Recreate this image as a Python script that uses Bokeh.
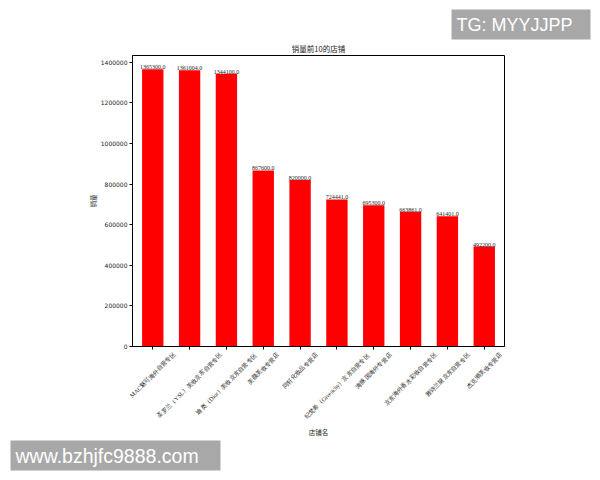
import math
from bokeh.plotting import figure
from bokeh.layouts import column
from bokeh.models import (Range1d, SingleIntervalTicker, BasicTickFormatter, FixedTicker,
                          ColumnDataSource, LabelSet, Label, BoxAnnotation)
from bokeh.embed import file_html
from bokeh.resources import INLINE

# Top-10 stores by sales volume
stores = [
    "MAC魅可海外自营专区",
    "圣罗兰（YSL）美妆京东自营专区",
    "迪奥（Dior）美妆京东自营专区",
    "美颜美妆专营店",
    "同轩化妆品专营店",
    "纪梵希（Givenchy）京东自营专区",
    "海豚国海外专营店",
    "京东海外香水彩妆自营专区",
    "雅诗兰黛京东自营专区",
    "杰克潮美妆专营店",
]
sales = [1365300, 1361004, 1344100, 867600, 820000, 724441, 695300, 663861, 641401, 492200]
y_tick_step = 200000

CJK = "Noto Sans CJK SC"
LATIN = "DejaVu Sans"
INK = "#222222"
GREY = "#a8a8a8"

W = 600
FL, FR = 132, 504            # plot frame left/right on the page
TOP_H = 54                   # strip with title and badge
MAIN_TOP, MAIN_BOTTOM = 1, 4
FRAME_H = 291
MAIN_H = MAIN_TOP + FRAME_H + MAIN_BOTTOM
BOT_H = 480 - TOP_H - MAIN_H  # strip with store names

idx = list(range(len(stores)))
x0, x1 = -0.55, len(stores) - 1 + 0.55
ymax = max(sales) * 1.05


def strip(height, xr, yr):
    f = figure(width=W, height=height, output_backend="svg", toolbar_location=None,
               x_range=xr, y_range=yr, x_axis_type=None, y_axis_type=None,
               min_border=0, min_border_left=0, min_border_right=0,
               min_border_top=0, min_border_bottom=0, frame_align=False)
    f.outline_line_color = None
    f.background_fill_color = "white"
    f.border_fill_color = "white"
    f.xgrid.visible = False
    f.ygrid.visible = False
    return f


# ---------------- main bar chart ----------------
p = figure(width=W, height=MAIN_H, output_backend="svg", toolbar_location=None,
           x_range=Range1d(x0, x1), y_range=Range1d(0, ymax),
           min_border_left=FL, min_border_right=W - FR,
           min_border_top=MAIN_TOP, min_border_bottom=MAIN_BOTTOM, frame_align=False)
p.background_fill_color = "white"
p.border_fill_color = "white"
p.outline_line_color = "black"
p.outline_line_width = 1
p.xgrid.visible = False
p.ygrid.visible = False

src = ColumnDataSource(dict(x=idx, top=sales, txt=[f"{v:.1f}" for v in sales]))
p.vbar(x="x", top="top", width=0.58, source=src, fill_color="#ff0000", line_color=None)
p.add_layout(LabelSet(x="x", y="top", text="txt", source=src, text_align="center",
                      text_baseline="bottom", text_font=LATIN, text_font_size="6px",
                      text_color=INK))

ya = p.yaxis[0]
ya.ticker = SingleIntervalTicker(interval=y_tick_step, num_minor_ticks=0)
ya.formatter = BasicTickFormatter(use_scientific=False)
ya.major_label_text_font = LATIN
ya.major_label_text_font_size = "6px"
ya.major_label_text_color = INK
ya.major_label_standoff = 2
ya.major_tick_out = 3
ya.major_tick_in = 0
ya.minor_tick_out = 0
ya.minor_tick_in = 0
ya.axis_line_color = "black"
ya.axis_label = "销量"
ya.axis_label_text_font = CJK
ya.axis_label_text_font_size = "6.5px"
ya.axis_label_text_font_style = "normal"
ya.axis_label_text_color = INK
ya.axis_label_standoff = 0

xa = p.xaxis[0]
xa.ticker = FixedTicker(ticks=idx)
xa.major_label_overrides = {i: "" for i in idx}
xa.major_label_text_font_size = "0px"
xa.major_label_standoff = 0
xa.major_tick_out = 3
xa.major_tick_in = 0
xa.minor_tick_out = 0
xa.axis_line_color = "black"

# ---------------- top strip: title and badge ----------------
top = strip(TOP_H, Range1d(0, W), Range1d(0, TOP_H))
cx = (FL + FR) / 2
top.add_layout(Label(x=cx, y=TOP_H - 47.5, x_units="screen", y_units="screen",
                     text="销量前10的店铺", text_align="center", text_baseline="middle",
                     text_font=CJK, text_font_size="7.5px", text_color=INK))
top.add_layout(BoxAnnotation(left=451, right=590, top=TOP_H - 9, bottom=TOP_H - 39,
                             left_units="screen", right_units="screen",
                             top_units="screen", bottom_units="screen",
                             fill_color=GREY, fill_alpha=1, line_color=None))
top.add_layout(Label(x=456, y=TOP_H - 24, x_units="screen", y_units="screen",
                     text="TG: MYYJJPP", text_align="left", text_baseline="middle",
                     text_font="Liberation Sans", text_font_size="18px", text_color="white"))

# ---------------- bottom strip: store names, axis title, site badge ----------------
px_per_unit = (FR - FL) / (x1 - x0)
bx0 = x0 - FL / px_per_unit
bx1 = x1 + (W - FR) / px_per_unit
bot = strip(BOT_H, Range1d(bx0, bx1), Range1d(0, BOT_H))
page_bottom = 480


def text_width(s, f):
    w = 0.0
    for c in s:
        if ord(c) > 0x2E80:
            w += f
        elif c.isupper():
            w += 0.66 * f
        else:
            w += 0.53 * f
    return w


FS = 6.0
label_top = 351               # page y where rotated names start
ly = []
for s in stores:
    half = (text_width(s, FS) + FS) * math.sqrt(0.5) / 2
    ly.append(page_bottom - (label_top + half))
name_src = ColumnDataSource(dict(x=idx, y=ly, text=stores))
bot.add_layout(LabelSet(x="x", y="y", text="text", source=name_src, x_units="data",
                        y_units="screen", angle=math.pi / 4, text_align="center",
                        text_baseline="middle", text_font=CJK, text_font_size=f"{FS}px",
                        text_color=INK))
bot.add_layout(Label(x=cx, y=page_bottom - 431, x_units="screen", y_units="screen",
                     text="店铺名", text_align="center", text_baseline="middle",
                     text_font=CJK, text_font_size="6.5px", text_color=INK))
bot.add_layout(BoxAnnotation(left=10, right=220, top=page_bottom - 440,
                             bottom=page_bottom - 470,
                             left_units="screen", right_units="screen",
                             top_units="screen", bottom_units="screen",
                             fill_color=GREY, fill_alpha=1, line_color=None))
bot.add_layout(Label(x=15, y=page_bottom - 455, x_units="screen", y_units="screen",
                     text="www.bzhjfc9888.com", text_align="left", text_baseline="middle",
                     text_font="Liberation Sans", text_font_size="19.5px", text_color="white"))

layout = column(top, p, bot, spacing=0)
open("out.html", "w").write(file_html(layout, INLINE))
